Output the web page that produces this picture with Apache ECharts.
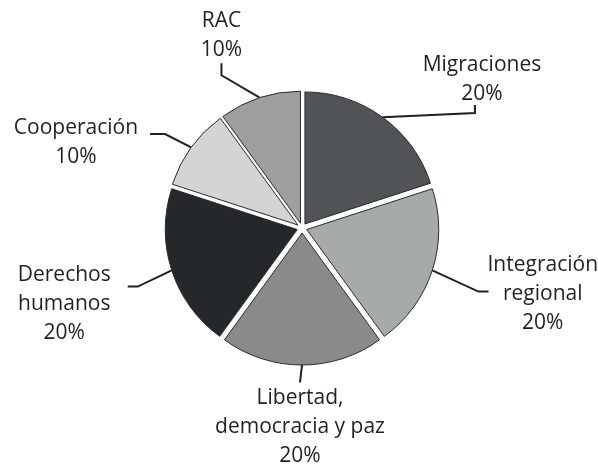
<!DOCTYPE html>
<html>
<head>
<meta charset="utf-8">
<script src="https://cdn.jsdelivr.net/npm/echarts@6/dist/echarts.min.js"></script>
<style>
  html, body { margin: 0; padding: 0; background: #fff; }
  #main { width: 598px; height: 464px; }
</style>
</head>
<body>
<div id="main"></div>
<script>
  // data
  var categories = ['Migraciones', 'Integración\nregional', 'Libertad,\ndemocracia y paz', 'Derechos\nhumanos', 'Cooperación', 'RAC'];
  var shares = [20, 20, 20, 20, 10, 10];
  var sliceColors = ['#505456', '#a7aaab', '#888a8c', '#25282a', '#d3d4d4', '#9d9fa0'];

  // label placement (centre of each text block) and how the leader enters it
  var labelCenters = [[479, 84], [538, 292], [300, 422], [69, 302], [80, 145], [223, 40]];
  var leaders = [
    {side: 'bottom', gap: -4, stub: 8, shift: -7},
    {side: 'left', gap: 1, stub: 10, shift: -2},
    {side: 'top', gap: 1, stub: 0, shift: 0},
    {side: 'right', gap: 17, stub: 10, shift: -17},
    {side: 'right', gap: 12, stub: 15, shift: -8},
    {side: 'bottom', gap: -1, stub: 12, shift: 0}
  ];

  var chart = echarts.init(document.getElementById('main'));

  var pieData = [];
  for (var i = 0; i < categories.length; i++) {
    pieData.push({
      name: categories[i],
      value: shares[i],
      selected: true,
      itemStyle: {color: sliceColors[i]}
    });
  }

  chart.setOption({
    animation: false,
    series: [{
      type: 'pie',
      center: [302, 228],
      radius: 132,
      startAngle: 90,
      clockwise: true,
      selectedMode: 'multiple',
      selectedOffset: 5,
      emphasis: {disabled: true},
      avoidLabelOverlap: false,
      itemStyle: {
        borderColor: '#2a2a2a',
        borderWidth: 1
      },
      label: {
        show: true,
        position: 'outside',
        color: '#231f20',
        fontFamily: 'Open Sans',
        fontSize: 21,
        lineHeight: 29,
        formatter: function (p) {
          return p.name + '\n' + p.value + '%';
        }
      },
      labelLine: {
        show: true,
        length: 15,
        length2: 10,
        lineStyle: {color: '#231f20', width: 2}
      },
      labelLayout: function (params) {
        var idx = params.dataIndex;
        var c = labelCenters[idx];
        var L = leaders[idx];
        var r = params.labelRect;
        var w = r.width, h = r.height;
        var left = c[0] - w / 2, right = c[0] + w / 2, top = c[1] - h / 2, bottom = c[1] + h / 2;
        var p0 = params.labelLinePoints ? params.labelLinePoints[0] : [c[0], c[1]];
        var end, elbow;
        if (L.side === 'bottom') {
          end = [c[0] + L.shift, bottom + L.gap];
          elbow = [end[0], end[1] + L.stub];
        } else if (L.side === 'top') {
          end = [c[0] + L.shift, top - L.gap];
          elbow = [end[0], end[1]];
        } else if (L.side === 'left') {
          end = [left + L.gap, c[1] + L.shift];
          elbow = [end[0] - L.stub, end[1]];
        } else {
          end = [right + L.gap, c[1] + L.shift];
          elbow = [end[0] + L.stub, end[1]];
        }
        // anchor x of the default label, so that centring the lines keeps the block where we want it
        var anchorX = r.x + w / 2;
        if (params.align === 'left') anchorX = r.x;
        else if (params.align === 'right') anchorX = r.x + w;
        return {
          dx: c[0] - anchorX,
          dy: c[1] - (r.y + h / 2),
          align: 'center',
          labelLinePoints: [p0, elbow, end]
        };
      },
      data: pieData
    }]
  });
</script>
</body>
</html>
